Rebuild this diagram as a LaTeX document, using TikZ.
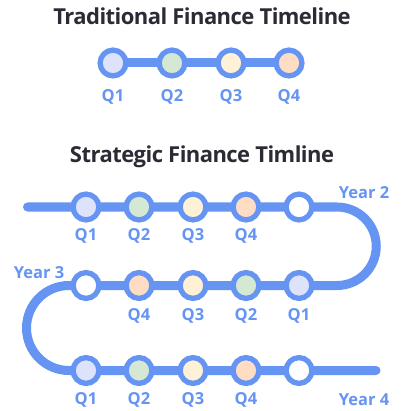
\documentclass[tikz,border=0pt]{standalone}
\usepackage{fontspec}
\setmainfont{Open Sans}
\newfontfamily\titlefont[LetterSpace=-2.5]{Open Sans}
\definecolor{lineblue}{HTML}{6594F3}
\definecolor{titlegray}{HTML}{2B2B36}
\definecolor{qa}{HTML}{DEE3FC}
\definecolor{qb}{HTML}{D5E8D4}
\definecolor{qc}{HTML}{FFF1D6}
\definecolor{qd}{HTML}{FFDDC4}
\begin{document}
\begin{tikzpicture}[x=1pt,y=-1pt,
  dot/.style={circle,draw=lineblue,line width=5.3pt,minimum size=25.8pt,inner sep=0pt},
  track/.style={draw=lineblue,line width=9pt,line cap=round},
  qlab/.style={text=lineblue,font=\fontsize{16.5}{16.5}\selectfont\bfseries,anchor=base,inner sep=0pt},
  ttl/.style={text=titlegray,font=\titlefont\fontsize{22}{22}\selectfont\bfseries,anchor=base,inner sep=0pt}]
\useasboundingbox (0,0) rectangle (404,411);
% Titles
\node[ttl] (t1) at (202,24.5) {Traditional Finance Timeline};
\node[ttl] (t2) at (202,163) {Strategic Finance Timline};
% Traditional timeline
\coordinate (ta) at (113,63);
\coordinate (tb) at (289,63);
\draw[track] (ta) -- (tb);
\node[dot,fill=qa] (a1) at (113,63) {};
\node[dot,fill=qb] (a2) at (172,63) {};
\node[dot,fill=qc] (a3) at (231,63) {};
\node[dot,fill=qd] (a4) at (289,63) {};
\node[qlab] (la1) at (113,101.5) {Q1};
\node[qlab] (la2) at (172,101.5) {Q2};
\node[qlab] (la3) at (231,101.5) {Q3};
\node[qlab] (la4) at (289,101.5) {Q4};
% Strategic track
\coordinate (s0) at (27.5,207);
\coordinate (s1) at (337,207);
\coordinate (s2) at (337,285.5);
\coordinate (s3) at (69,285.5);
\coordinate (s4) at (69,370.5);
\coordinate (s5) at (376,370.5);
\draw[track] (s0) -- (s1) arc[start angle=-90,end angle=90,radius=39.25]
  -- (s3) arc[start angle=-90,end angle=-270,radius=42.5] -- (s5);
% Row 1
\node[dot,fill=qa] (b1) at (86,207) {};
\node[dot,fill=qb] (b2) at (139,207) {};
\node[dot,fill=qc] (b3) at (193,207) {};
\node[dot,fill=qd] (b4) at (246,207) {};
\node[dot,fill=white] (b5) at (299,207) {};
\node[qlab] (lb1) at (86,240) {Q1};
\node[qlab] (lb2) at (139,240) {Q2};
\node[qlab] (lb3) at (193,240) {Q3};
\node[qlab] (lb4) at (246,240) {Q4};
% Row 2
\node[dot,fill=white] (c0) at (86,285.5) {};
\node[dot,fill=qd] (c4) at (139,285.5) {};
\node[dot,fill=qc] (c3) at (193,285.5) {};
\node[dot,fill=qb] (c2) at (246,285.5) {};
\node[dot,fill=qa] (c1) at (299,285.5) {};
\node[qlab] (lc4) at (139,320) {Q4};
\node[qlab] (lc3) at (193,320) {Q3};
\node[qlab] (lc2) at (246,320) {Q2};
\node[qlab] (lc1) at (299,320) {Q1};
% Row 3
\node[dot,fill=qa] (d1) at (86,370.5) {};
\node[dot,fill=qb] (d2) at (139,370.5) {};
\node[dot,fill=qc] (d3) at (193,370.5) {};
\node[dot,fill=qd] (d4) at (246,370.5) {};
\node[dot,fill=white] (d5) at (299,370.5) {};
\node[qlab] (ld1) at (86,404.5) {Q1};
\node[qlab] (ld2) at (139,404.5) {Q2};
\node[qlab] (ld3) at (193,404.5) {Q3};
\node[qlab] (ld4) at (246,404.5) {Q4};
% Year labels
\node[qlab] (y2) at (364,199) {Year 2};
\node[qlab] (y3) at (39,278) {Year 3};
\node[qlab] (y4) at (364,405) {Year 4};
\end{tikzpicture}
\end{document}
